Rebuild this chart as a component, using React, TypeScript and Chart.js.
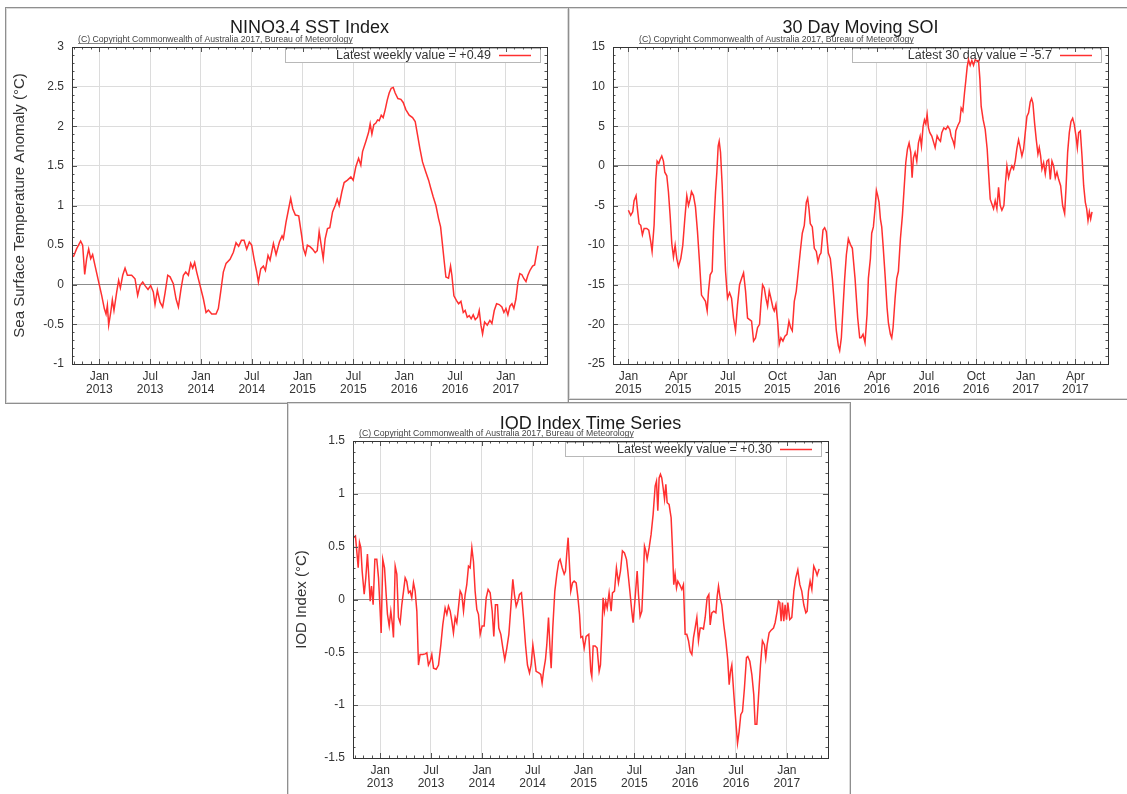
import React, { useEffect, useRef } from 'react';
import { Chart, registerables } from 'chart.js';

Chart.register(...registerables);

const FONT = '"Liberation Sans", Arial, Helvetica, sans-serif';
const LINE_COLOR = '#ff3030';

// ---------------- NINO3.4 SST index (decimal year, degC anomaly) ----------------
const NINO_DATES = [
  2012.744, 2012.777, 2012.816, 2012.836, 2012.856, 2012.875, 2012.895, 2012.915, 2012.934, 2012.957,
  2012.990, 2013.023, 2013.049, 2013.066, 2013.079, 2013.092, 2013.112, 2013.128, 2013.144, 2013.171,
  2013.190, 2013.207, 2013.230, 2013.253, 2013.276, 2013.318, 2013.351, 2013.377, 2013.400, 2013.427,
  2013.453, 2013.479, 2013.505, 2013.531, 2013.548, 2013.571, 2013.597, 2013.623, 2013.646, 2013.673,
  2013.696, 2013.728, 2013.755, 2013.778, 2013.804, 2013.827, 2013.850, 2013.876, 2013.899, 2013.919,
  2013.938, 2013.958, 2013.991, 2014.024, 2014.050, 2014.073, 2014.106, 2014.148, 2014.171, 2014.194,
  2014.220, 2014.247, 2014.286, 2014.319, 2014.345, 2014.371, 2014.398, 2014.424, 2014.450, 2014.476,
  2014.499, 2014.522, 2014.549, 2014.565, 2014.588, 2014.614, 2014.634, 2014.660, 2014.680, 2014.713,
  2014.739, 2014.772, 2014.798, 2014.811, 2014.837, 2014.860, 2014.883, 2014.903, 2014.929, 2014.962,
  2014.991, 2015.008, 2015.028, 2015.047, 2015.073, 2015.098, 2015.124, 2015.144, 2015.163, 2015.183,
  2015.203, 2015.222, 2015.245, 2015.268, 2015.295, 2015.321, 2015.341, 2015.360, 2015.386, 2015.409,
  2015.442, 2015.475, 2015.498, 2015.524, 2015.551, 2015.573, 2015.590, 2015.623, 2015.649, 2015.665,
  2015.682, 2015.701, 2015.721, 2015.738, 2015.754, 2015.774, 2015.793, 2015.813, 2015.833, 2015.852,
  2015.872, 2015.892, 2015.911, 2015.938, 2015.967, 2015.990, 2016.016, 2016.049, 2016.082, 2016.108,
  2016.131, 2016.154, 2016.180, 2016.213, 2016.240, 2016.262, 2016.285, 2016.312, 2016.338, 2016.358,
  2016.377, 2016.394, 2016.410, 2016.436, 2016.456, 2016.469, 2016.489, 2016.515, 2016.535, 2016.558,
  2016.581, 2016.600, 2016.620, 2016.640, 2016.659, 2016.679, 2016.699, 2016.722, 2016.738, 2016.755,
  2016.771, 2016.791, 2016.817, 2016.843, 2016.863, 2016.886, 2016.909, 2016.935, 2016.961, 2016.981,
  2017.001, 2017.020, 2017.040, 2017.060, 2017.079, 2017.099, 2017.119, 2017.138, 2017.158, 2017.178,
  2017.198, 2017.217, 2017.237, 2017.263, 2017.283, 2017.302, 2017.316,
];
const NINO_VALUES = [
  0.35, 0.456, 0.55, 0.5, 0.13, 0.33, 0.45, 0.33, 0.38, 0.245,
  0.055, -0.135, -0.3, -0.37, -0.26, -0.51, -0.35, -0.19, -0.325, -0.09,
  0.055, -0.04, 0.12, 0.21, 0.12, 0.12, 0.076, -0.135, -0.01, 0.034,
  -0.017, -0.06, -0.01, -0.09, -0.25, -0.07, -0.22, -0.28, -0.11, 0.12,
  0.1, 0.013, -0.18, -0.28, -0.05, 0.12, 0.16, 0.12, 0.27, 0.21,
  0.28, 0.16, -0.01, -0.18, -0.35, -0.32, -0.37, -0.37, -0.3, -0.09,
  0.16, 0.27, 0.32, 0.41, 0.53, 0.485, 0.56, 0.56, 0.45, 0.54,
  0.5, 0.33, 0.16, 0.034, 0.2, 0.236, 0.18, 0.37, 0.31, 0.52,
  0.38, 0.54, 0.616, 0.58, 0.79, 0.94, 1.09, 0.96, 0.88, 0.87,
  0.62, 0.456, 0.38, 0.5, 0.48, 0.45, 0.405, 0.43, 0.67, 0.5,
  0.33, 0.58, 0.71, 0.72, 0.92, 1.0, 1.08, 1.0, 1.17, 1.29,
  1.32, 1.36, 1.32, 1.49, 1.595, 1.51, 1.68, 1.81, 1.92, 2.03,
  1.9, 2.02, 2.04, 2.08, 2.07, 2.14, 2.11, 2.21, 2.33, 2.42,
  2.48, 2.49, 2.42, 2.35, 2.34, 2.3, 2.21, 2.14, 2.11, 2.06,
  1.89, 1.72, 1.55, 1.42, 1.32, 1.215, 1.11, 1.0, 0.835, 0.73,
  0.5, 0.29, 0.097, 0.084, 0.236, 0.12, -0.14, -0.2, -0.24, -0.21,
  -0.35, -0.325, -0.41, -0.39, -0.43, -0.38, -0.44, -0.41, -0.325, -0.51,
  -0.62, -0.47, -0.51, -0.45, -0.49, -0.325, -0.24, -0.25, -0.28, -0.35,
  -0.3, -0.38, -0.27, -0.24, -0.3, -0.18, 0.034, 0.14, 0.127, 0.076,
  0.04, 0.12, 0.18, 0.236, 0.25, 0.39, 0.49,
];

// ---------------- 30 day moving SOI (months since Jan 2015, SOI) ----------------
const SOI_MONTHS = [
  0, 0.141, 0.262, 0.343, 0.464, 0.544, 0.645, 0.746, 0.847, 0.948,
  1.109, 1.23, 1.351, 1.431, 1.552, 1.653, 1.734, 1.835, 1.915, 2.016,
  2.117, 2.198, 2.319, 2.419, 2.52, 2.621, 2.722, 2.823, 2.923, 3.024,
  3.165, 3.286, 3.407, 3.528, 3.629, 3.73, 3.81, 3.931, 4.052, 4.173,
  4.294, 4.415, 4.536, 4.657, 4.758, 4.839, 4.94, 5.06, 5.141, 5.262,
  5.343, 5.423, 5.484, 5.565, 5.665, 5.766, 5.867, 5.988, 6.109, 6.23,
  6.351, 6.472, 6.593, 6.714, 6.835, 6.956, 7.077, 7.198, 7.319, 7.44,
  7.56, 7.681, 7.802, 7.923, 8.004, 8.105, 8.206, 8.306, 8.407, 8.508,
  8.609, 8.73, 8.81, 8.911, 9.012, 9.113, 9.214, 9.335, 9.456, 9.577,
  9.698, 9.798, 9.899, 10.02, 10.141, 10.262, 10.383, 10.504, 10.625, 10.746,
  10.827, 10.907, 10.988, 11.109, 11.23, 11.351, 11.452, 11.552, 11.633, 11.754,
  11.855, 11.956, 12.077, 12.198, 12.319, 12.44, 12.56, 12.681, 12.762, 12.863,
  12.964, 13.065, 13.165, 13.286, 13.407, 13.528, 13.69, 13.851, 13.972, 14.052,
  14.173, 14.294, 14.415, 14.496, 14.617, 14.697, 14.798, 14.899, 14.98, 15.06,
  15.141, 15.222, 15.302, 15.383, 15.504, 15.625, 15.706, 15.826, 15.907, 15.988,
  16.109, 16.21, 16.31, 16.431, 16.552, 16.653, 16.754, 16.855, 16.956, 17.056,
  17.137, 17.218, 17.318, 17.419, 17.52, 17.621, 17.701, 17.802, 17.883, 17.964,
  18.044, 18.125, 18.206, 18.326, 18.447, 18.528, 18.649, 18.77, 18.851, 18.931,
  19.052, 19.173, 19.294, 19.415, 19.496, 19.617, 19.697, 19.778, 19.899, 20.02,
  20.101, 20.201, 20.302, 20.383, 20.464, 20.544, 20.645, 20.746, 20.847, 20.947,
  21.048, 21.149, 21.23, 21.31, 21.431, 21.552, 21.673, 21.754, 21.855, 21.956,
  22.056, 22.157, 22.258, 22.359, 22.46, 22.56, 22.681, 22.762, 22.863, 22.964,
  23.064, 23.165, 23.266, 23.367, 23.468, 23.568, 23.669, 23.77, 23.871, 23.972,
  24.072, 24.173, 24.274, 24.355, 24.435, 24.536, 24.637, 24.738, 24.818, 24.899,
  24.98, 25.081, 25.181, 25.282, 25.383, 25.484, 25.585, 25.685, 25.786, 25.887,
  25.988, 26.109, 26.23, 26.351, 26.431, 26.532, 26.633, 26.734, 26.835, 26.935,
  27.036, 27.117, 27.197, 27.298, 27.399, 27.5, 27.601, 27.681, 27.762, 27.843,
  27.923, 28.004,
];
const SOI_VALUES = [
  -5.6, -6.25, -5.8, -4.4, -3.75, -5.4, -7.3, -7.5, -8.7, -7.9,
  -7.9, -8.1, -9.6, -10.8, -7.5, -1.7, 0.6, 0.3, 0.8, 1.25,
  0.6, -0.8, -1.25, -3.3, -6.25, -9.8, -11.5, -10, -11.7, -12.7,
  -11.7, -10, -6.7, -3.75, -5, -4.2, -3.25, -3.75, -5.2, -8.3,
  -12.1, -16.3, -16.7, -17.1, -18.3, -15.8, -13.75, -13.3, -8.3, -3.3,
  -0.8, 2.5, 3.1, 1.7, -2.5, -8.3, -13.3, -16.7, -16, -16.7,
  -19.2, -20.8, -17.5, -15, -14.2, -13.5, -15.8, -19.2, -19.4, -19.6,
  -22.1, -21.7, -20.4, -20, -17.5, -15, -15.4, -16.7, -17.7, -15.8,
  -16.7, -17.9, -18.3, -17.5, -19.6, -22.5, -21.7, -22.1, -21.5, -21.25,
  -19.6, -20.4, -20.8, -17.1, -15.8, -13.3, -10.8, -8.5, -7.5, -4.6,
  -4.1, -5.4, -7.3, -7.7, -10.4, -10.8, -12.1, -11.25, -11, -8.1,
  -7.8, -8.3, -11, -11.7, -14.2, -17.5, -20.8, -22.7, -23.3, -21.7,
  -17.9, -14.2, -11.25, -9.2, -9.9, -10.4, -14.2, -19.2, -21.7, -21.7,
  -21.25, -22.3, -18.75, -14.2, -11.7, -8.5, -7.7, -5.4, -3.1, -3.75,
  -4.6, -6.7, -7.7, -10, -13.75, -17.9, -19.8, -21.25, -21.7, -20.4,
  -16.7, -14.2, -13.3, -9.2, -6.25, -2.9, 0.4, 2.1, 2.9, 1.7,
  -1.5, 1.0, 1.7, 0.6, 2.9, 3.75, 2.5, 5, 5.8, 5.3,
  6.5, 4.8, 4.2, 3.75, 2.9, 2.3, 3.8, 3.3, 3.1, 4.2,
  4.8, 4.6, 5, 4.6, 3.75, 3.1, 2.5, 4.4, 5.1, 5.6,
  7.3, 6.9, 9.2, 10.8, 12.5, 13.4, 12.7, 13.3, 12.7, 13.4,
  13.25, 13.3, 11, 7.5, 5.8, 4.6, 2.1, -0.8, -4.2, -4.8,
  -5.4, -4.4, -5.4, -2.7, -5, -5.6, -5, -2.5, 0, -1.5,
  -0.6, 0, -0.4, 0.6, 2.2, 3.3, 2.3, 1.25, 2.1, 4.2,
  6.25, 6.7, 8.1, 8.5, 7.9, 5.4, 3.3, 1.5, 2.3, 1.25,
  -0.4, 0.4, -1.0, 0.6, 0.8, -1.7, 0.6, 0, -1.5, -0.8,
  -1.7, -2.5, -5, -6, -2.9, 1.7, 4.2, 5.6, 6, 5.2,
  3.75, 2.3, 4.2, 4.4, 1.25, -2.5, -4.6, -5.4, -6.9, -5.8,
  -6.7, -5.8,
];

// ---------------- IOD index (decimal year, degC) ----------------
const IOD_DATES = [
  2012.738, 2012.757, 2012.77, 2012.784, 2012.797, 2012.81, 2012.823, 2012.843, 2012.859, 2012.875,
  2012.889, 2012.902, 2012.915, 2012.931, 2012.948, 2012.967, 2012.984, 2012.997, 2013.01, 2013.026,
  2013.043, 2013.059, 2013.072, 2013.089, 2013.105, 2013.121, 2013.131, 2013.148, 2013.164, 2013.18,
  2013.197, 2013.213, 2013.23, 2013.246, 2013.262, 2013.279, 2013.295, 2013.311, 2013.328, 2013.344,
  2013.361, 2013.377, 2013.393, 2013.42, 2013.443, 2013.459, 2013.475, 2013.492, 2013.508, 2013.525,
  2013.551, 2013.574, 2013.597, 2013.616, 2013.639, 2013.656, 2013.672, 2013.689, 2013.705, 2013.721,
  2013.738, 2013.754, 2013.77, 2013.787, 2013.803, 2013.82, 2013.836, 2013.852, 2013.869, 2013.885,
  2013.902, 2013.918, 2013.934, 2013.951, 2013.967, 2013.984, 2014.003, 2014.023, 2014.043, 2014.062,
  2014.082, 2014.102, 2014.118, 2014.134, 2014.154, 2014.167, 2014.187, 2014.207, 2014.226, 2014.246,
  2014.266, 2014.285, 2014.305, 2014.321, 2014.338, 2014.354, 2014.37, 2014.39, 2014.41, 2014.43,
  2014.449, 2014.469, 2014.485, 2014.502, 2014.518, 2014.534, 2014.561, 2014.58, 2014.593, 2014.607,
  2014.626, 2014.639, 2014.656, 2014.672, 2014.682, 2014.698, 2014.718, 2014.738, 2014.757, 2014.77,
  2014.79, 2014.81, 2014.823, 2014.836, 2014.849, 2014.862, 2014.875, 2014.892, 2014.908, 2014.928,
  2014.944, 2014.961, 2014.974, 2014.99, 2015.007, 2015.026, 2015.052, 2015.072, 2015.082, 2015.095,
  2015.115, 2015.134, 2015.154, 2015.167, 2015.18, 2015.193, 2015.206, 2015.219, 2015.233, 2015.252,
  2015.272, 2015.285, 2015.305, 2015.324, 2015.344, 2015.364, 2015.383, 2015.403, 2015.423, 2015.436,
  2015.456, 2015.475, 2015.488, 2015.508, 2015.528, 2015.541, 2015.557, 2015.574, 2015.59, 2015.6,
  2015.613, 2015.626, 2015.646, 2015.665, 2015.685, 2015.705, 2015.718, 2015.731, 2015.744, 2015.757,
  2015.77, 2015.783, 2015.797, 2015.81, 2015.823, 2015.842, 2015.862, 2015.875, 2015.888, 2015.901,
  2015.915, 2015.928, 2015.947, 2015.967, 2015.983, 2016.0, 2016.016, 2016.033, 2016.049, 2016.066,
  2016.082, 2016.098, 2016.115, 2016.131, 2016.148, 2016.164, 2016.18, 2016.197, 2016.216, 2016.233,
  2016.246, 2016.262, 2016.282, 2016.302, 2016.315, 2016.328, 2016.344, 2016.36, 2016.38, 2016.4,
  2016.419, 2016.433, 2016.446, 2016.459, 2016.479, 2016.498, 2016.515, 2016.531, 2016.547, 2016.564,
  2016.583, 2016.603, 2016.616, 2016.636, 2016.656, 2016.675, 2016.688, 2016.705, 2016.721, 2016.741,
  2016.76, 2016.78, 2016.793, 2016.806, 2016.826, 2016.846, 2016.869, 2016.885, 2016.905, 2016.918,
  2016.931, 2016.944, 2016.957, 2016.97, 2016.983, 2016.997, 2017.01, 2017.029, 2017.049, 2017.069,
  2017.088, 2017.108, 2017.128, 2017.147, 2017.167, 2017.187, 2017.2, 2017.213, 2017.229, 2017.246,
  2017.265, 2017.285, 2017.298, 2017.318,
];
const IOD_VALUES = [
  0.585, 0.6, 0.46, 0.3, 0.54, 0.49, 0.27, 0.05, 0.205, 0.43,
  0.205, -0.016, 0.126, -0.05, 0.38, 0.38, 0.205, -0.05, -0.316, 0.38,
  0.3, 0.05, -0.14, -0.25, -0.11, -0.24, -0.36, 0.316, 0.24, -0.17,
  -0.22, -0.05, 0.08, 0.205, 0.17, 0.063, 0.08, 0.016, 0.158, 0.08,
  -0.11, -0.62, -0.52, -0.52, -0.515, -0.505, -0.62, -0.585, -0.52, -0.65,
  -0.66, -0.62, -0.43, -0.24, -0.08, -0.14, -0.063, -0.11, -0.205, -0.316,
  -0.17, -0.22, -0.08, 0.08, 0.047, -0.11, 0.047, 0.14, 0.316, 0.3,
  0.49, 0.36, 0.08, -0.095, -0.14, -0.33, -0.25, -0.25, 0.016, 0.095,
  0.063, -0.11, -0.35, -0.05, -0.05, -0.27, -0.33, -0.46, -0.57, -0.46,
  -0.33, -0.08, 0.19, 0.047, -0.063, -0.016, 0.047, 0.063, -0.17, -0.43,
  -0.62, -0.695, -0.62, -0.43, -0.55, -0.68, -0.695, -0.71, -0.79, -0.68,
  -0.57, -0.43, -0.17, -0.49, -0.65, -0.27, 0.08, 0.24, 0.36, 0.38,
  0.3, 0.24, 0.27, 0.44, 0.585, 0.33, 0.08, 0.158, 0.174, 0.158,
  0.03, -0.14, -0.36, -0.35, -0.46, -0.35, -0.33, -0.68, -0.73, -0.44,
  -0.44, -0.46, -0.68, -0.62, -0.33, 0.016, -0.11, -0.016, -0.08, 0.063,
  -0.11, 0.063, 0.08, 0.3, 0.158, 0.27, 0.46, 0.44, 0.38, 0.27,
  0.08, -0.11, -0.22, 0.016, 0.27, 0.047, -0.16, -0.11, 0.24, 0.505,
  0.46, 0.38, 0.49, 0.616, 0.806, 1.074, 1.12, 0.84, 1.15, 1.185,
  1.15, 1.06, 0.95, 1.09, 0.916, 0.9, 0.774, 0.49, 0.14, 0.24,
  0.11, 0.174, 0.14, 0.095, 0.14, -0.33, -0.33, -0.39, -0.49, -0.52,
  -0.36, -0.27, -0.17, -0.39, -0.27, -0.27, -0.28, -0.17, 0.016, 0.047,
  -0.24, -0.126, -0.11, -0.126, 0.03, 0.126, 0.016, -0.05, -0.24, -0.39,
  -0.57, -0.806, -0.68, -0.62, -0.9, -1.15, -1.36, -1.25, -1.09, -1.06,
  -0.84, -0.55, -0.54, -0.585, -0.71, -0.9, -1.18, -1.18, -0.93, -0.62,
  -0.39, -0.43, -0.55, -0.43, -0.316, -0.29, -0.27, -0.22, -0.11, -0.016,
  -0.03, -0.205, -0.03, -0.205, -0.05, -0.19, -0.03, -0.19, -0.17, 0.08,
  0.205, 0.28, 0.14, 0.08, -0.05, -0.126, -0.11, 0.08, 0.174, 0.095,
  0.316, 0.27, 0.23, 0.29,
];

// ---------------- tick labels ----------------
const YEAR_TICKS = [2013, 2013.5, 2014, 2014.5, 2015, 2015.5, 2016, 2016.5, 2017];
const YEAR_TICK_LABELS = [
  ['Jan', '2013'], ['Jul', '2013'], ['Jan', '2014'], ['Jul', '2014'], ['Jan', '2015'],
  ['Jul', '2015'], ['Jan', '2016'], ['Jul', '2016'], ['Jan', '2017'],
];
const SOI_TICKS = [0, 3, 6, 9, 12, 15, 18, 21, 24, 27];
const SOI_TICK_LABELS = [
  ['Jan', '2015'], ['Apr', '2015'], ['Jul', '2015'], ['Oct', '2015'], ['Jan', '2016'],
  ['Apr', '2016'], ['Jul', '2016'], ['Oct', '2016'], ['Jan', '2017'], ['Apr', '2017'],
];

const COPYRIGHT = '(C) Copyright Commonwealth of Australia 2017, Bureau of Meteorology';

type Rect = { left: number; top: number; width: number; height: number };
type PlotRect = { left: number; top: number; right: number; bottom: number };

type PanelCfg = {
  key: string;
  canvas: Rect;
  plot: PlotRect;
  xs: number[];
  ys: number[];
  xMin: number;
  xMax: number;
  yMin: number;
  yMax: number;
  yStep: number;
  xTicks: number[];
  xTickLabels: string[][];
  xMinor: number;
  yMinor: number;
  title: string;
  titleBaseline: number;
  copyrightX: number;
  yTitle?: string;
  yTitleCenter?: number;
  legendText: string;
  legendWidth: number;
};

const PANELS: PanelCfg[] = [
  {
    key: 'nino',
    canvas: { left: 6, top: 8, width: 561, height: 394 },
    plot: { left: 72, top: 47, right: 547, bottom: 364 },
    xs: NINO_DATES,
    ys: NINO_VALUES,
    xMin: 2012.731,
    xMax: 2017.405,
    yMin: -1,
    yMax: 3,
    yStep: 0.5,
    xTicks: YEAR_TICKS,
    xTickLabels: YEAR_TICK_LABELS,
    xMinor: 1 / 12,
    yMinor: 0.1,
    title: 'NINO3.4 SST Index',
    titleBaseline: 32.5,
    copyrightX: 78,
    yTitle: 'Sea Surface Temperature Anomaly (°C)',
    yTitleCenter: 20,
    legendText: 'Latest weekly value = +0.49',
    legendWidth: 255,
  },
  {
    key: 'soi',
    canvas: { left: 570, top: 8, width: 557, height: 390 },
    plot: { left: 613, top: 47, right: 1108, bottom: 364 },
    xs: SOI_MONTHS,
    ys: SOI_VALUES,
    xMin: -0.93,
    xMax: 28.97,
    yMin: -25,
    yMax: 15,
    yStep: 5,
    xTicks: SOI_TICKS,
    xTickLabels: SOI_TICK_LABELS,
    xMinor: 0.5,
    yMinor: 1,
    title: '30 Day Moving SOI',
    titleBaseline: 32.5,
    copyrightX: 639,
    legendText: 'Latest 30 day value = -5.7',
    legendWidth: 249,
  },
  {
    key: 'iod',
    canvas: { left: 289, top: 404, width: 560, height: 390 },
    plot: { left: 353, top: 441, right: 828, bottom: 758 },
    xs: IOD_DATES,
    ys: IOD_VALUES,
    xMin: 2012.733,
    xMax: 2017.405,
    yMin: -1.5,
    yMax: 1.5,
    yStep: 0.5,
    xTicks: YEAR_TICKS,
    xTickLabels: YEAR_TICK_LABELS,
    xMinor: 1 / 12,
    yMinor: 0.1,
    title: 'IOD Index Time Series',
    titleBaseline: 428.5,
    copyrightX: 359,
    yTitle: 'IOD Index (°C)',
    yTitleCenter: 301.7,
    legendText: 'Latest weekly value = +0.30',
    legendWidth: 256,
  },
];

function makeExtras(c: PanelCfg) {
  return {
    id: 'extras_' + c.key,
    beforeDatasetsDraw(chart: any) {
      const { ctx, chartArea: a } = chart;
      ctx.save();
      const bx = a.right - 7 - c.legendWidth;
      const by = a.top + 1;
      const bh = 14;
      ctx.fillStyle = '#ffffff';
      ctx.fillRect(bx, by, c.legendWidth, bh);
      ctx.strokeStyle = '#b8b8b8';
      ctx.lineWidth = 1;
      ctx.strokeRect(Math.round(bx) + 0.5, Math.round(by) + 0.5, c.legendWidth, bh);
      ctx.font = `12.5px ${FONT}`;
      ctx.fillStyle = '#333';
      ctx.textAlign = 'right';
      ctx.textBaseline = 'middle';
      ctx.fillText(c.legendText, a.right - 56, by + bh / 2 + 1);
      ctx.strokeStyle = LINE_COLOR;
      ctx.lineWidth = 1.5;
      ctx.beginPath();
      ctx.moveTo(a.right - 48, by + bh / 2 + 0.5);
      ctx.lineTo(a.right - 16, by + bh / 2 + 0.5);
      ctx.stroke();
      ctx.restore();
    },
    afterDraw(chart: any) {
      const { ctx, chartArea: a, scales } = chart;
      const xs = scales.x;
      const ys = scales.y;
      ctx.save();
      ctx.strokeStyle = '#555';
      ctx.lineWidth = 1;
      ctx.beginPath();
      const nX = Math.round((c.xMax - c.xMin) / c.xMinor) + 2;
      const startX = Math.ceil(c.xMin / c.xMinor) * c.xMinor;
      for (let i = 0; i < nX; i++) {
        const v = startX + i * c.xMinor;
        if (v > c.xMax) break;
        const px = Math.round(xs.getPixelForValue(v)) + 0.5;
        const major = c.xTicks.some((t) => Math.abs(t - v) < 1e-6);
        const len = major ? 5 : 2.5;
        ctx.moveTo(px, a.bottom);
        ctx.lineTo(px, a.bottom - len);
        ctx.moveTo(px, a.top);
        ctx.lineTo(px, a.top + len);
      }
      const nY = Math.round((c.yMax - c.yMin) / c.yMinor);
      for (let i = 0; i <= nY; i++) {
        const v = c.yMin + i * c.yMinor;
        const py = Math.round(ys.getPixelForValue(v)) + 0.5;
        const rel = (v - c.yMin) / c.yStep;
        const major = Math.abs(rel - Math.round(rel)) < 1e-6;
        const len = major ? 5 : 2.5;
        ctx.moveTo(a.left, py);
        ctx.lineTo(a.left + len, py);
        ctx.moveTo(a.right, py);
        ctx.lineTo(a.right - len, py);
      }
      ctx.stroke();
      ctx.strokeStyle = '#333';
      ctx.lineWidth = 1;
      ctx.strokeRect(Math.round(a.left) + 0.5, Math.round(a.top) + 0.5, Math.round(a.right - a.left), Math.round(a.bottom - a.top));
      const ox = c.canvas.left;
      const oy = c.canvas.top;
      ctx.fillStyle = '#1a1a1a';
      ctx.font = `18px ${FONT}`;
      ctx.textAlign = 'center';
      ctx.textBaseline = 'alphabetic';
      ctx.fillText(c.title, (a.left + a.right) / 2, c.titleBaseline - oy);
      ctx.font = `8.7px ${FONT}`;
      ctx.textAlign = 'left';
      ctx.fillStyle = '#444';
      const cx = c.copyrightX - ox;
      const cy = a.top - 5;
      ctx.fillText(COPYRIGHT, cx, cy);
      const w = ctx.measureText(COPYRIGHT).width;
      ctx.strokeStyle = '#666';
      ctx.lineWidth = 0.8;
      ctx.beginPath();
      ctx.moveTo(cx, cy + 1.5);
      ctx.lineTo(cx + w, cy + 1.5);
      ctx.stroke();
      ctx.restore();
    },
  };
}

function Panel({ cfg }: { cfg: PanelCfg }) {
  const ref = useRef<HTMLCanvasElement | null>(null);
  useEffect(() => {
    const c = cfg;
    const cv = c.canvas;
    const pl = c.plot;
    const padTop = pl.top - cv.top;
    const padRight = cv.left + cv.width - pl.right;
    const yW = pl.left - cv.left;
    const xH = cv.top + cv.height - pl.bottom;
    const points = c.xs.map((x, i) => ({ x, y: c.ys[i] }));
    const yTitleOpts = c.yTitle
      ? {
          display: true,
          text: c.yTitle,
          color: '#333',
          font: { family: FONT, size: 15, lineHeight: 1.2 },
          padding: { top: (c.yTitleCenter as number) - cv.left - 9, bottom: 0 },
        }
      : { display: false };
    const chart = new Chart(ref.current as HTMLCanvasElement, {
      type: 'line',
      data: {
        datasets: [
          {
            data: points,
            borderColor: LINE_COLOR,
            borderWidth: 1.5,
            pointRadius: 0,
            pointHoverRadius: 0,
            tension: 0,
            fill: false,
          },
        ],
      },
      options: {
        animation: false,
        responsive: false,
        maintainAspectRatio: false,
        events: [],
        layout: { padding: { top: padTop, right: padRight, left: 0, bottom: 0 } },
        plugins: {
          legend: { display: false },
          title: { display: false },
          tooltip: { enabled: false },
        },
        scales: {
          x: {
            type: 'linear',
            min: c.xMin,
            max: c.xMax,
            afterBuildTicks: (scale: any) => {
              scale.ticks = c.xTicks.map((v) => ({ value: v }));
            },
            afterFit: (scale: any) => {
              scale.height = xH;
            },
            grid: { color: '#dcdcdc', lineWidth: 1, drawTicks: false },
            border: { display: false },
            ticks: {
              autoSkip: false,
              maxRotation: 0,
              minRotation: 0,
              padding: 6,
              color: '#333',
              font: { family: FONT, size: 12, lineHeight: 1.08 },
              callback: (_v: any, i: number) => c.xTickLabels[i],
            },
          },
          y: {
            type: 'linear',
            min: c.yMin,
            max: c.yMax,
            afterFit: (scale: any) => {
              scale.width = yW;
            },
            grid: {
              color: (ctx: any) => (ctx.tick && Math.abs(ctx.tick.value) < 1e-9 ? '#8c8c8c' : '#dcdcdc'),
              lineWidth: 1,
              drawTicks: false,
            },
            border: { display: false },
            title: yTitleOpts as any,
            ticks: {
              stepSize: c.yStep,
              padding: 8,
              color: '#333',
              font: { family: FONT, size: 12 },
              callback: (v: any) => String(Math.round(Number(v) * 100) / 100),
            },
          },
        },
      },
      plugins: [makeExtras(c)],
    } as any);
    return () => chart.destroy();
  }, [cfg]);
  const cv = cfg.canvas;
  return (
    <canvas
      ref={ref}
      width={cv.width}
      height={cv.height}
      style={{ position: 'absolute', left: cv.left, top: cv.top, width: cv.width, height: cv.height }}
    />
  );
}

const frameStyle = (left: number, top: number, width: number, height: number): React.CSSProperties => ({
  position: 'absolute',
  left,
  top,
  width,
  height,
  boxSizing: 'border-box',
  border: '1px solid #8f8f8f',
  boxShadow: 'inset 0 0 0 1px #dadada',
  background: '#ffffff',
});

export default function App() {
  return (
    <div
      style={{
        position: 'absolute',
        left: 0,
        top: 0,
        width: 1127,
        height: 794,
        overflow: 'hidden',
        background: '#ffffff',
      }}
    >
      <div style={frameStyle(5, 7, 564, 397)} />
      <div style={frameStyle(568, 7, 580, 393)} />
      <div style={frameStyle(287, 402, 564, 420)} />
      {PANELS.map((p) => (
        <Panel key={p.key} cfg={p} />
      ))}
    </div>
  );
}
